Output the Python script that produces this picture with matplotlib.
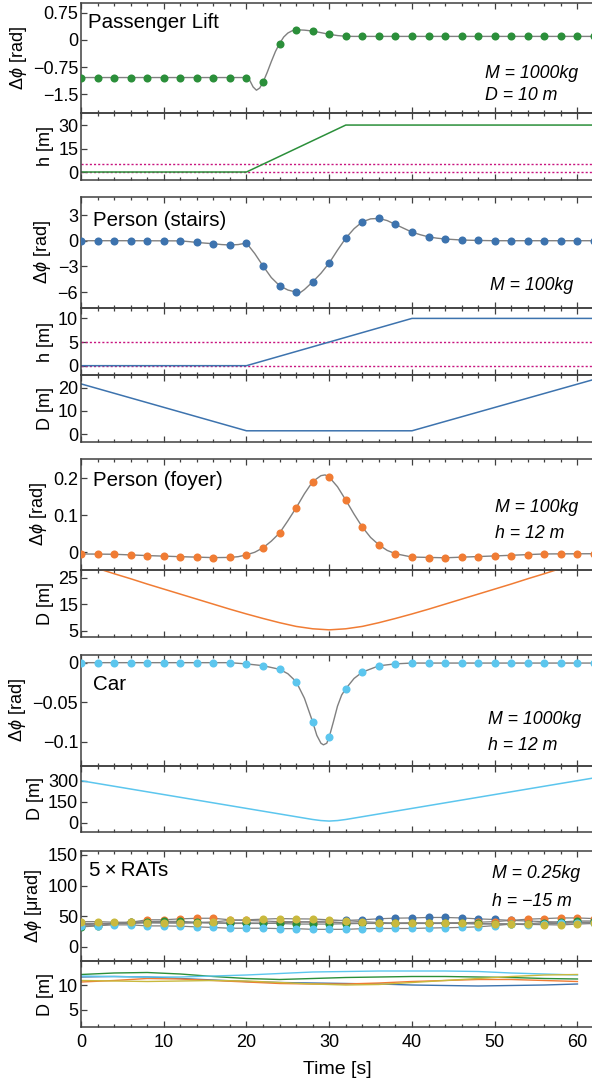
import matplotlib.pyplot as plt
import numpy as np

plt.rcParams['font.family'] = ['Liberation Sans', 'DejaVu Sans']
plt.rcParams['mathtext.fontset'] = 'custom'
plt.rcParams['mathtext.rm'] = 'Liberation Sans'
plt.rcParams['mathtext.it'] = 'Liberation Sans:italic'
plt.rcParams['mathtext.fallback'] = 'stixsans'
plt.rcParams['axes.unicode_minus'] = False

# colours
c_green = '#2b8f3a'
c_blue = '#3d73ae'
c_orange = '#f07c34'
c_cyan = '#5cc6ee'
c_yellow = '#c9b93e'
c_mag = '#c8147f'
c_curve = '#808080'
c_frame = '#404040'

# sample times of the markers
t_m = list(range(0, 63, 2))

# ---- Passenger lift
lift_m = [-1.04] * 11 + [-1.17, -0.10, 0.28, 0.245, 0.155] + [0.10] * 16
lift_ct = [0, 5, 10, 15, 19, 20, 20.4, 20.8, 21.2, 21.6, 22, 22.5, 23, 23.5, 24, 24.5,
           25, 25.5, 26, 27, 28, 29, 30, 31, 32, 33, 40, 50, 62]
lift_cy = [-1.04, -1.04, -1.04, -1.04, -1.04, -1.04, -1.12, -1.30, -1.39, -1.33, -1.17,
           -0.90, -0.60, -0.32, -0.10, 0.08, 0.19, 0.25, 0.28, 0.27, 0.245, 0.20, 0.155,
           0.12, 0.10, 0.097, 0.097, 0.097, 0.097]
lift_ht = [0, 20, 32, 62]
lift_h = [0, 0, 30, 30]

# ---- Person (stairs)
stairs_m = [0, 0, 0, 0, 0, 0, -0.02, -0.2, -0.35, -0.5, -0.27, -2.95, -5.25, -6.0, -4.8,
            -2.6, 0.3, 2.2, 2.6, 1.9, 1.0, 0.45, 0.2, 0.08, 0.03, 0, 0, 0, 0, 0, 0, 0]
stairs_ct = [0, 6, 12, 13, 14, 15, 16, 17, 18, 19, 20, 21, 22, 23, 24, 25, 26, 26.5, 27,
             28, 29, 30, 31, 32, 33, 34, 35, 36, 37, 38, 39, 40, 41, 42, 43, 44, 46, 48,
             50, 62]
stairs_cy = [0, 0, -0.02, -0.1, -0.2, -0.28, -0.35, -0.45, -0.5, -0.45, -0.27, -1.5,
             -2.95, -4.3, -5.25, -5.75, -6.0, -6.05, -5.7, -4.8, -3.8, -2.6, -1.1, 0.3,
             1.4, 2.2, 2.55, 2.6, 2.35, 1.9, 1.45, 1.0, 0.7, 0.45, 0.3, 0.2, 0.08, 0.03,
             0, 0]
stairs_ht = [0, 20, 40, 62]
stairs_h = [0, 0, 10, 10]
stairs_dt = [0, 20, 40, 62]
stairs_d = [21.6, 1.5, 1.5, 23.5]

# ---- Person (foyer)
foyer_m = [-0.0046, -0.005, -0.0055, -0.0073, -0.009, -0.011, -0.012, -0.0136, -0.0145,
           -0.014, -0.007, 0.012, 0.052, 0.12, 0.191, 0.203, 0.141, 0.068, 0.02, -0.004,
           -0.013, -0.015, -0.015, -0.013, -0.012, -0.010, -0.009, -0.0065, -0.0046,
           -0.0045, -0.0042, -0.004]
foyer_ct = [0, 4, 8, 12, 16, 18, 19, 20, 21, 22, 23, 24, 25, 26, 27, 28, 29, 29.5, 30,
            31, 32, 33, 34, 35, 36, 37, 38, 40, 44, 50, 56, 62]
foyer_cy = [-0.0046, -0.0055, -0.009, -0.012, -0.0145, -0.014, -0.012, -0.007, 0.0,
            0.012, 0.03, 0.052, 0.085, 0.12, 0.158, 0.191, 0.207, 0.209, 0.203, 0.177,
            0.141, 0.103, 0.068, 0.04, 0.02, 0.005, -0.004, -0.013, -0.015, -0.010,
            -0.0046, -0.004]
foyer_d = [30.5, 28.5, 26.5, 24.6, 22.6, 20.7, 18.8, 16.9, 15.0, 13.1, 11.3, 9.6, 8.0,
           6.6, 5.7, 5.3, 5.7, 6.6, 8.0, 9.6, 11.3, 13.1, 15.0, 16.9, 18.8, 20.7, 22.6,
           24.6, 26.5, 28.5, 30.5, 32.4]

# ---- Car
car_m = [0] * 10 + [-0.0016, -0.0038, -0.0084, -0.024, -0.075, -0.094, -0.033, -0.012,
                    -0.004, -0.0015] + [-0.0005] * 12
car_ct = [0, 10, 18, 20, 22, 24, 25, 26, 27, 28, 28.5, 29, 29.3, 29.7, 30, 30.5, 31, 31.5,
          32, 33, 34, 36, 38, 40, 62]
car_cy = [0, 0, 0, -0.0016, -0.0038, -0.0084, -0.014, -0.024, -0.045, -0.075, -0.092,
          -0.102, -0.104, -0.102, -0.094, -0.075, -0.055, -0.041, -0.033, -0.02, -0.012,
          -0.004, -0.0015, -0.0005, -0.0005]
car_dt = [0, 28, 29, 30, 31, 32, 62]
car_d = [300, 23.3, 15.6, 12, 15.6, 23.3, 320]

# ---- 5 x RATs (micro rad)
rat_blue = [38, 38, 38, 38, 39, 39, 39, 39, 39, 38, 38, 38, 39, 40, 41, 42, 43, 44, 45.7,
            46.7, 47, 47.8, 47.8, 47, 45.5, 44.5, 43, 42, 41, 40, 40, 40]
rat_orange = [36, 37, 38, 40, 44, 44, 45.5, 46.5, 46.5, 44, 43, 42, 41, 41, 40, 40, 39,
              38.5, 38, 38, 38, 38, 38, 39, 40, 41, 43, 45, 46, 47, 47, 46]
rat_green = [32.4, 34, 38, 40, 41, 41.4, 41.5, 40, 38.8, 38.8, 38.8, 38.5, 38, 37, 37, 37,
             37.5, 38, 38, 38.5, 38.5, 38.5, 39, 39, 38, 37, 36.5, 37.5, 39.5, 40.5, 42, 42]
rat_cyan = [34, 34.5, 35.7, 35.7, 34, 34, 33.5, 32.4, 31.4, 30.2, 30.2, 30.2, 29.6, 29.5,
            28.4, 28.4, 28.4, 29.5, 29.8, 29.8, 29.8, 30.5, 31, 31.5, 32.5, 34.5, 37, 36,
            37.5, 38, 39, 39]
rat_yellow = [41, 41, 40, 40, 39.5, 39, 38.8, 39.5, 40.5, 43, 44, 45, 46, 45.5, 45.3, 44,
              42.6, 41, 39.5, 38.5, 39, 38.5, 38.5, 38, 37, 37.5, 37.5, 36.5, 36, 35.5,
              37, 38]
rat_colors = [c_blue, c_orange, c_green, c_cyan, c_yellow]

rat_dt = list(range(0, 63, 4))
rat_d_blue = [11.6, 11.7, 11.6, 11.3, 11.0, 10.7, 10.5, 10.4, 10.3, 10.2, 10.0, 9.9,
              9.8, 9.9, 10.0, 10.2]
rat_d_orange = [10.6, 10.9, 11.3, 11.2, 10.9, 10.6, 10.3, 10.2, 10.2, 10.4, 10.7, 10.9,
                11.1, 11.1, 10.9, 10.7]
rat_d_green = [12.1, 12.4, 12.5, 12.2, 11.7, 11.3, 11.1, 11.3, 11.5, 11.6, 11.7, 11.7,
               11.6, 11.5, 11.3, 11.2]
rat_d_cyan = [11.8, 11.7, 11.6, 11.6, 11.8, 12.0, 12.3, 12.6, 12.7, 12.8, 12.8, 12.8,
              12.7, 12.4, 12.2, 12.0]
rat_d_yellow = [10.9, 10.8, 10.7, 10.8, 10.9, 10.8, 10.5, 10.2, 10.0, 10.1, 10.5, 10.9,
                11.3, 11.7, 12.0, 12.1]

# ---------------------------------------------------------------
W, H = 592, 1080
L, R = 81, 594
FS = 13
fig = plt.figure(figsize=(W / 100, H / 100), dpi=100)


def add(top, bot):
    ax = fig.add_axes([L / W, 1 - bot / H, (R - L) / W, (bot - top) / H])
    ax.set_xlim(0, 62)
    ax.set_xticks(range(0, 61, 10))
    ax.set_xticks(range(0, 63, 2), minor=True)
    ax.tick_params(which='both', direction='in', top=True, right=False,
                   colors=c_frame, labelcolor='black', labelsize=FS, width=0.9)
    ax.tick_params(which='major', length=4.5)
    ax.tick_params(which='minor', length=2.5)
    ax.tick_params(axis='x', labelbottom=False)
    ax.tick_params(axis='y', pad=2)
    for s in ax.spines.values():
        s.set_color(c_frame)
        s.set_linewidth(1.1)
    ax.patch.set_alpha(0)
    return ax


def phase(ax, ct, cy, m, col):
    ax.plot(ct, cy, color=c_curve, lw=1.0, zorder=2)
    ax.plot(t_m, m, 'o', color=col, ms=5.8, mew=0, zorder=3)


def label(ax, txt, lp=3):
    ax.set_ylabel(txt, fontsize=FS, labelpad=lp)


def note(ax, top, bot, x, y, txt, fs=12.8, **kw):
    ax.text((x - L) / (R - L), (bot - y) / (bot - top), txt, transform=ax.transAxes,
            va='center', ha='left', fontsize=fs, **kw)


dphi = r'$\Delta\phi$ [rad]'
TS = 14.8

# Passenger lift
a1 = add(3, 113)
phase(a1, lift_ct, lift_cy, lift_m, c_green)
a1.set_ylim(-2.02, 1.02)
a1.set_yticks([0.75, 0, -0.75, -1.5], ['0.75', '0', '\u22120.75', '\u22121.5'])
label(a1, dphi)
note(a1, 3, 113, 88, 22, 'Passenger Lift', fs=TS)
note(a1, 3, 113, 485, 73, 'M = 1000kg', style='italic')
note(a1, 3, 113, 485, 96, 'D = 10 m', style='italic')

a2 = add(113, 180)
a2.axhline(5, color=c_mag, lw=1, ls=(0, (1.5, 1.5)))
a2.axhline(0, color=c_mag, lw=1, ls=(0, (1.5, 1.5)))
a2.plot(lift_ht, lift_h, color=c_green, lw=1.1)
a2.set_ylim(-5.1, 37.7)
a2.set_yticks([0, 15, 30])
label(a2, 'h [m]')

# Person (stairs)
a3 = add(197, 308)
phase(a3, stairs_ct, stairs_cy, stairs_m, c_blue)
a3.set_ylim(-7.85, 5.1)
a3.set_yticks([3, 0, -3, -6], ['3', '0', '\u22123', '\u22126'])
label(a3, dphi)
note(a3, 197, 308, 93, 220, 'Person (stairs)', fs=TS)
note(a3, 197, 308, 490, 286, 'M = 100kg', style='italic')

a4 = add(308, 375)
a4.axhline(5, color=c_mag, lw=1, ls=(0, (1.5, 1.5)))
a4.axhline(0, color=c_mag, lw=1, ls=(0, (1.5, 1.5)))
a4.plot(stairs_ht, stairs_h, color=c_blue, lw=1.1)
a4.set_ylim(-1.97, 12.2)
a4.set_yticks([0, 5, 10])
label(a4, 'h [m]')

a5 = add(375, 442)
a5.plot(stairs_dt, stairs_d, color=c_blue, lw=1.1)
a5.set_ylim(-3.3, 25.4)
a5.set_yticks([0, 10, 20])
label(a5, 'D [m]')

# Person (foyer)
a6 = add(459, 570)
phase(a6, foyer_ct, foyer_cy, foyer_m, c_orange)
a6.set_ylim(-0.048, 0.252)
a6.set_yticks([0.2, 0.1, 0], ['0.2', '0.1', '0'])
label(a6, dphi)
note(a6, 459, 570, 93, 480, 'Person (foyer)', fs=TS)
note(a6, 459, 570, 495, 508, 'M = 100kg', style='italic')
note(a6, 459, 570, 495, 533, 'h = 12 m', style='italic')

a7 = add(570, 637)
a7.plot(t_m, foyer_d, color=c_orange, lw=1.1)
a7.set_ylim(2.6, 27.9)
a7.set_yticks([5, 15, 25])
label(a7, 'D [m]')

# Car
a8 = add(655, 766)
phase(a8, car_ct, car_cy, car_m, c_cyan)
a8.set_ylim(-0.1308, 0.0097)
a8.set_yticks([0, -0.05, -0.1], ['0', '\u22120.05', '\u22120.1'])
label(a8, dphi)
note(a8, 655, 766, 93, 685, 'Car', fs=TS)
note(a8, 655, 766, 488, 720, 'M = 1000kg', style='italic')
note(a8, 655, 766, 488, 745, 'h = 12 m', style='italic')

a9 = add(766, 832)
a9.plot(car_dt, car_d, color=c_cyan, lw=1.1)
a9.set_ylim(-66, 405)
a9.set_yticks([0, 150, 300])
label(a9, 'D [m]')

# 5 x RATs
a10 = add(851, 961)
for ys in [rat_blue, rat_orange, rat_green, rat_cyan, rat_yellow]:
    a10.plot(t_m, ys, color=c_curve, lw=0.9, zorder=2)
for ys, col in zip([rat_blue, rat_orange, rat_green, rat_cyan, rat_yellow], rat_colors):
    a10.plot(t_m, ys, 'o', color=col, ms=5.8, mew=0, zorder=3)
a10.set_ylim(-23.4, 156.5)
a10.set_yticks([0, 50, 100, 150])
label(a10, r'$\Delta\phi$ [$\mathrm{\mu}$rad]')
note(a10, 851, 961, 89, 871, '5\u2009\u00d7\u2009RATs', fs=TS)
note(a10, 851, 961, 492, 874, 'M = 0.25kg', style='italic')
note(a10, 851, 961, 492, 901, 'h = \u221215 m', style='italic')

a11 = add(961, 1027)
for ys, col in zip([rat_d_blue, rat_d_orange, rat_d_green, rat_d_cyan, rat_d_yellow],
                   rat_colors):
    a11.plot(rat_dt, ys, color=col, lw=1.0)
a11.set_ylim(1.6, 14.8)
a11.set_yticks([5, 10])
label(a11, 'D [m]')
a11.tick_params(axis='x', labelbottom=True, pad=5)
a11.set_xlabel('Time [s]', fontsize=14, labelpad=7)

fig.savefig('out.png', dpi=100)
